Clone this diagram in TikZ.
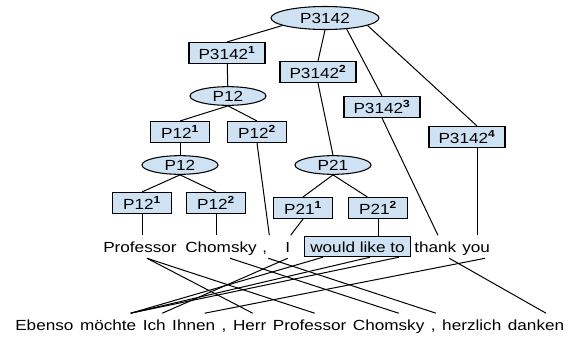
\documentclass[tikz,border=0pt]{standalone}
\usepackage{fontspec}
\setmainfont{Liberation Sans}[FakeStretch=1.17]
\usepackage{tikz}
\usetikzlibrary{positioning,shapes.geometric}
\definecolor{nodeblue}{RGB}{207,226,243}
\tikzset{
  catnode/.style={ellipse, draw, fill=nodeblue, line width=0.8pt, inner sep=0pt, minimum width=57pt, minimum height=14pt},
  partbox/.style={rectangle, draw, fill=nodeblue, line width=0.8pt, inner sep=0pt, minimum width=44.25pt, minimum height=15.75pt},
  widebox/.style={partbox, minimum width=57pt},
  phrasebox/.style={rectangle, draw, fill=nodeblue, line width=0.8pt, inner xsep=4.6pt, inner ysep=3.5pt, text height=7.9pt, text depth=0pt, anchor=base},
  word/.style={inner xsep=0pt, inner ysep=4.5pt, text height=7.9pt, text depth=0pt, anchor=base west},
  link/.style={line width=0.75pt}
}

\begin{document}
\begin{tikzpicture}[x=0.75pt,y=0.75pt,yscale=-1,xscale=1,font=\fontsize{11}{13}\selectfont]
        \useasboundingbox (0,0) rectangle (577,336);

        % tree
        \node[catnode, minimum width=81pt, minimum height=17.25pt] (P3142) at (325,18) {P3142};
        \node[widebox] (P3142a) at (227,53) {P3142\textsuperscript{\textbf{1}}};
        \node[widebox] (P3142b) at (318,72) {P3142\textsuperscript{\textbf{2}}};
        \node[widebox] (P3142c) at (382,107) {P3142\textsuperscript{\textbf{3}}};
        \node[widebox] (P3142d) at (467,137) {P3142\textsuperscript{\textbf{4}}};
        \node[catnode] (P12top) at (228,96) {P12};
        \node[partbox] (P12a) at (180,132) {P12\textsuperscript{\textbf{1}}};
        \node[partbox] (P12b) at (257,132) {P12\textsuperscript{\textbf{2}}};
        \node[catnode] (P12low) at (180,165) {P12};
        \node[catnode] (P21) at (333,165) {P21};
        \node[partbox] (P12c) at (142,203) {P12\textsuperscript{\textbf{1}}};
        \node[partbox] (P12d) at (216,203) {P12\textsuperscript{\textbf{2}}};
        \node[partbox] (P21a) at (303,208) {P21\textsuperscript{\textbf{1}}};
        \node[partbox] (P21b) at (378,208) {P21\textsuperscript{\textbf{2}}};

        % english words
        \node[word] (uProf) at (103,252) {Professor};
        \node[word] (uChomsky) at (185,252) {Chomsky};
        \node[word] (uComma) at (262,252) {,};
        \node[word] (uI) at (285,252) {I};
        \node[phrasebox] (uWould) at (357.5,252) {would like to};
        \node[word] (uThank) at (414,252) {thank};
        \node[word] (uYou) at (462,252) {you};

        % german words
        \node[word] (lEbenso) at (15,330) {Ebenso};
        \node[word, right=4.5pt of lEbenso] (lMochte) {möchte};
        \node[word, right=4.5pt of lMochte] (lIch) {Ich};
        \node[word, right=4.5pt of lIch] (lIhnen) {Ihnen};
        \node[word, right=4.5pt of lIhnen] (lCommaA) {,};
        \node[word, right=4.5pt of lCommaA] (lHerr) {Herr};
        \node[word, right=4.5pt of lHerr] (lProf) {Professor};
        \node[word, right=4.5pt of lProf] (lChomsky) {Chomsky};
        \node[word, right=4.5pt of lChomsky] (lCommaB) {,};
        \node[word, right=4.5pt of lCommaB] (lHerzlich) {herzlich};
        \node[word, right=4.5pt of lHerzlich] (lDanken) {danken};

        \draw[link] (P3142.190) -- (P3142a.north);
        \draw[link] (P3142.south) -- (P3142b.north);
        \draw[link] (P3142.-27) -- (P3142c.north);
        \draw[link] (P3142.-10) -- ([xshift=7.5pt]P3142d.north);
        \draw[link] (P3142a) -- (P12top);
        \draw[link] (P12top.south) -- (P12a.north);
        \draw[link] (P12top.south) -- (P12b.north);
        \draw[link] (P12a) -- (P12low);
        \draw[link] (P12low.south) -- (P12c.north);
        \draw[link] (P12low.south) -- (P12d.north);
        \draw[link] (P3142b.south) -- (P21.north);
        \draw[link] (P21.south) -- (P21a.north);
        \draw[link] (P21.south) -- ([xshift=-8pt]P21b.north);

        \coordinate (dFoot) at ([xshift=7.5pt]P3142d.south);
        \draw[link] (P12c.south) -- (P12c.south |- uProf.north);
        \draw[link] (P12d.south) -- (P12d.south |- uChomsky.north);
        \draw[link] (P12b.south) -- ([xshift=3.5pt]uComma.north);
        \draw[link] (P21a.south) -- ([xshift=2.25pt]uI.north);
        \draw[link] (P21b.south) -- (P21b.south |- uWould.north);
        \draw[link] (P3142c.south) -- ([xshift=2pt]uThank.north);
        \draw[link] (dFoot) -- (dFoot |- uYou.north);

        % alignment
        \draw[link] ([xshift=5.25pt]uProf.south) -- ([xshift=2.25pt]lHerr.north);
        \draw[link] ([xshift=5.25pt]uProf.south) -- ([xshift=3.75pt]lProf.north);
        \draw[link] ([xshift=6.75pt]uChomsky.south) -- ([xshift=7.5pt]lChomsky.north);
        \draw[link] ([xshift=2.7pt]uComma.south) -- ([xshift=2pt]lCommaB.north);
        \draw[link] (uI.south) -- ([xshift=6pt]lIch.north);
        \foreach \dx in {-25.9,9.4,31.1}
          \draw[link] ([xshift=\dx pt]uWould.south) -- ([xshift=16.9pt]lMochte.north);
        \draw[link] ([xshift=10.5pt]uThank.south) -- ([xshift=7.5pt]lDanken.north);
        \draw[link] ([xshift=6.75pt]uYou.south) -- ([xshift=8.25pt]lIhnen.north);
\end{tikzpicture}
\end{document}
